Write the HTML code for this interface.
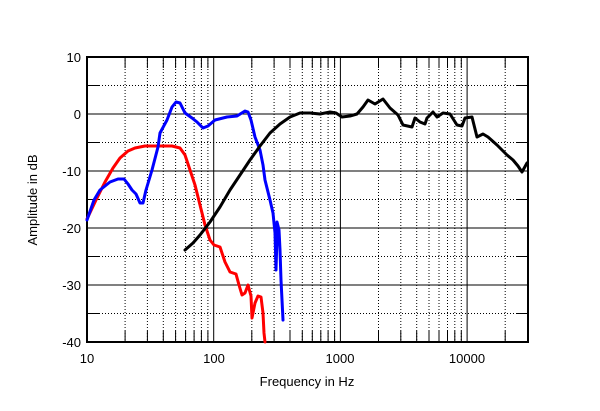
<!DOCTYPE html>
<html><head><style>
body{margin:0;background:#fff;}
svg text{font-family:"Liberation Sans",Arial,sans-serif;font-size:13px;fill:#000;}
</style></head><body>
<svg width="600" height="406" xmlns="http://www.w3.org/2000/svg">
<rect width="600" height="406" fill="#fff"/>
<g stroke="#000" stroke-width="1" fill="none">
<path d="M87,114H528M87,171H528M87,228H528M87,285H528M213.7,57V342M340.4,57V342M467.1,57V342"/>
<path stroke-dasharray="1,2" d="M87,85.5H528M87,142.5H528M87,199.5H528M87,256.5H528M87,313.5H528
M125.1,57V342M147.4,57V342M163.3,57V342M175.6,57V342M185.6,57V342M194.1,57V342M201.4,57V342M207.9,57V342
M251.8,57V342M274.1,57V342M290,57V342M302.3,57V342M312.3,57V342M320.8,57V342M328.1,57V342M334.6,57V342
M378.5,57V342M400.8,57V342M416.7,57V342M429,57V342M439,57V342M447.5,57V342M454.8,57V342M461.3,57V342
M505.2,57V342"/>
<path d="M87,85.5h12M87,142.5h12M87,199.5h12M87,256.5h12M87,313.5h12
M528,85.5h-12M528,142.5h-12M528,199.5h-12M528,256.5h-12M528,313.5h-12
M125.1,57v11M147.4,57v11M163.3,57v11M175.6,57v11M185.6,57v11M194.1,57v11M201.4,57v11M207.9,57v11
M251.8,57v11M274.1,57v11M290,57v11M302.3,57v11M312.3,57v11M320.8,57v11M328.1,57v11M334.6,57v11
M378.5,57v11M400.8,57v11M416.7,57v11M429,57v11M439,57v11M447.5,57v11M454.8,57v11M461.3,57v11M505.2,57v11
M125.1,342v-11M147.4,342v-11M163.3,342v-11M175.6,342v-11M185.6,342v-11M194.1,342v-11M201.4,342v-11M207.9,342v-11
M251.8,342v-11M274.1,342v-11M290,342v-11M302.3,342v-11M312.3,342v-11M320.8,342v-11M328.1,342v-11M334.6,342v-11
M378.5,342v-11M400.8,342v-11M416.7,342v-11M429,342v-11M439,342v-11M447.5,342v-11M454.8,342v-11M461.3,342v-11M505.2,342v-11"/>
</g>
<rect x="87" y="57" width="441" height="285" fill="none" stroke="#000" stroke-width="2"/>
<g text-anchor="end">
<text x="81" y="62">10</text><text x="81" y="119">0</text><text x="81" y="176">-10</text>
<text x="81" y="233">-20</text><text x="81" y="290">-30</text><text x="81" y="347">-40</text>
</g>
<g text-anchor="middle">
<text x="87" y="363">10</text><text x="214" y="363">100</text><text x="340" y="363">1000</text><text x="467" y="363">10000</text>
<text x="307" y="386">Frequency in Hz</text>
<text transform="translate(37,200) rotate(-90)">Amplitude in dB</text>
</g>
<g fill="none" stroke-width="3" stroke-linejoin="round" stroke-linecap="round">
<polyline stroke="#ff0000" points="87,219 96,200 105,182 113,168 120,158 128,151 135,148 145,146 160,146 172,146 180,148 185,155 190,170 195,185 200,205 205,225 210,240 214,245 220,247 225,262 230,272 236,274 239,285 242,295 245,293 248,285 251,296 252,318 255,303 258,296 261,297 263,313 264,333 265,342"/>
<polyline stroke="#0000ff" points="87,220 94,200 100,190 110,182 118,179 124,179 128,184 132,190 136,194 140,203 143,203 146,190 152,170 158,147 160,133 167,120 172,107 176,102 180,103 185,113 192,118 197,122 203,128 208,126 215,120 227,117 237,116 245,111 248,112 251,120 255,137 260,150 263,165 265,180 268,192 270,200 273,213 275,233 276,270 277,237 277,222 279,230 280,250 281,280 283,320"/>
<polyline stroke="#000" points="185,250 193,243 200,235 210,222 220,207 230,190 240,175 250,160 260,146 270,133 280,124 290,117 300,113 310,113 320,114 330,112 336,113 342,117 350,116 357,114 363,107 368,100 375,104 383,99 390,108 398,115 403,125 412,127 415,118 420,122 425,124 427,118 433,112 437,117 443,113 450,114 457,125 462,126 465,118 472,117 477,137 483,134 488,137 497,145 507,155 513,160 518,166 522,172 527,163"/>
</g>
</svg>
</body></html>
